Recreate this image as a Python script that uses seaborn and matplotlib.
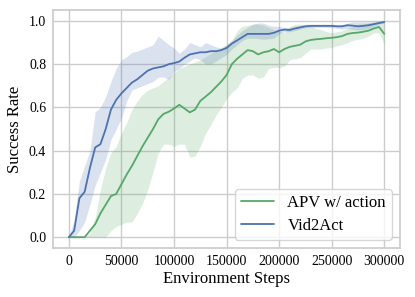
import numpy as np
import pandas as pd
import matplotlib
matplotlib.use("Agg")
import matplotlib.pyplot as plt
import seaborn as sns

# environment steps (every 5000)
steps = list(range(0, 300001, 5000))

vid2act_mean = [0.0, 0.03, 0.18, 0.21, 0.32, 0.415, 0.43, 0.50, 0.59, 0.635,
                0.665, 0.69, 0.715, 0.73, 0.75, 0.77, 0.78, 0.785, 0.79, 0.80,
                0.805, 0.812, 0.83, 0.845, 0.85, 0.855, 0.855, 0.86, 0.86, 0.865,
                0.875, 0.895, 0.91, 0.925, 0.94, 0.94, 0.94, 0.94, 0.94, 0.945,
                0.955, 0.96, 0.958, 0.965, 0.97, 0.975, 0.977, 0.977, 0.977, 0.977,
                0.977, 0.975, 0.975, 0.98, 0.978, 0.975, 0.977, 0.98, 0.985, 0.99,
                0.995]
vid2act_low = [0.0, 0.0, 0.03, 0.07, 0.15, 0.24, 0.30, 0.36, 0.45, 0.50,
               0.55, 0.63, 0.68, 0.69, 0.70, 0.71, 0.72, 0.74, 0.74, 0.73,
               0.765, 0.78, 0.80, 0.815, 0.83, 0.82, 0.80, 0.80, 0.815, 0.83,
               0.845, 0.87, 0.89, 0.91, 0.92, 0.92, 0.918, 0.915, 0.918, 0.92,
               0.94, 0.95, 0.95, 0.955, 0.962, 0.968, 0.97, 0.97, 0.97, 0.97,
               0.97, 0.965, 0.962, 0.965, 0.96, 0.958, 0.96, 0.965, 0.975, 0.985,
               0.99]
vid2act_high = [0.0, 0.08, 0.26, 0.33, 0.40, 0.58, 0.60, 0.65, 0.72, 0.78,
                0.82, 0.835, 0.855, 0.86, 0.87, 0.88, 0.89, 0.93, 0.91, 0.89,
                0.875, 0.85, 0.87, 0.90, 0.89, 0.88, 0.90, 0.89, 0.88, 0.875,
                0.89, 0.91, 0.935, 0.955, 0.97, 0.985, 0.99, 0.99, 0.98, 0.975,
                0.975, 0.97, 0.97, 0.975, 0.98, 0.985, 0.985, 0.985, 0.985, 0.985,
                0.985, 0.983, 0.983, 0.99, 0.995, 0.995, 0.995, 0.995, 0.995, 1.0,
                1.0]

apv_mean = [0.0, 0.0, 0.0, 0.0, 0.03, 0.06, 0.11, 0.15, 0.19, 0.20,
            0.245, 0.29, 0.33, 0.375, 0.42, 0.46, 0.50, 0.545, 0.57, 0.58,
            0.595, 0.612, 0.595, 0.577, 0.59, 0.63, 0.65, 0.67, 0.695, 0.72,
            0.75, 0.80, 0.825, 0.845, 0.865, 0.86, 0.845, 0.855, 0.86, 0.87,
            0.855, 0.87, 0.88, 0.885, 0.89, 0.905, 0.912, 0.915, 0.917, 0.92,
            0.922, 0.925, 0.93, 0.94, 0.944, 0.946, 0.95, 0.955, 0.965, 0.972,
            0.94]
apv_low = [0.0, 0.0, 0.0, 0.0, 0.0, 0.0, 0.0, 0.0, 0.03, 0.05,
           0.06, 0.07, 0.07, 0.11, 0.155, 0.22, 0.30, 0.39, 0.43, 0.43,
           0.42, 0.43, 0.43, 0.37, 0.375, 0.42, 0.48, 0.52, 0.565, 0.60,
           0.64, 0.67, 0.69, 0.735, 0.75, 0.75, 0.735, 0.74, 0.78, 0.785,
           0.785, 0.79, 0.82, 0.825, 0.83, 0.85, 0.87, 0.87, 0.87, 0.875,
           0.877, 0.885, 0.89, 0.90, 0.91, 0.915, 0.92, 0.93, 0.945, 0.945,
           0.89]
apv_high = [0.0, 0.0, 0.0, 0.0, 0.02, 0.09, 0.22, 0.32, 0.39, 0.42,
            0.48, 0.53, 0.59, 0.63, 0.66, 0.68, 0.69, 0.70, 0.72, 0.74,
            0.76, 0.78, 0.79, 0.80, 0.81, 0.82, 0.835, 0.85, 0.86, 0.875,
            0.89, 0.91, 0.955, 0.975, 0.98, 0.985, 0.985, 0.98, 0.97, 0.96,
            0.95, 0.945, 0.975, 0.985, 0.985, 0.98, 0.975, 0.965, 0.96, 0.95,
            0.946, 0.95, 0.955, 0.965, 0.975, 0.985, 0.988, 0.99, 0.995, 1.0,
            0.99]

labels = ["APV w/ action", "Vid2Act"]
colors = ["#55A868", "#4C72B0"]

df = pd.DataFrame({
    "Environment Steps": steps * 2,
    "Success Rate": apv_mean + vid2act_mean,
    "method": [labels[0]] * len(steps) + [labels[1]] * len(steps),
})

sns.set_theme(style="whitegrid")
plt.rcParams["font.family"] = ["Liberation Serif", "DejaVu Serif"]
plt.rcParams["text.color"] = "black"
plt.rcParams["axes.labelcolor"] = "black"
plt.rcParams["xtick.color"] = "black"
plt.rcParams["ytick.color"] = "black"

fig = plt.figure(figsize=(4.15, 2.97), dpi=100)
ax = fig.add_axes([0.128, 0.165, 0.836, 0.801])

bands = [(apv_low, apv_high), (vid2act_low, vid2act_high)]
for (lo, hi), c in zip(bands, colors):
    ax.fill_between(steps, lo, hi, color=c, alpha=0.2, linewidth=0)

sns.lineplot(data=df, x="Environment Steps", y="Success Rate", hue="method",
             hue_order=labels, palette=colors, linewidth=1.3, ax=ax)

ax.set_xticks([0, 50000, 100000, 150000, 200000, 250000, 300000])
ax.set_yticks([0.0, 0.2, 0.4, 0.6, 0.8, 1.0])
ax.tick_params(labelsize=10, length=0, pad=5)
ax.set_xlabel("Environment Steps", fontsize=12, labelpad=2)
ax.set_ylabel("Success Rate", fontsize=12, labelpad=4)
ax.legend(loc="lower right", fontsize=12, title=None, borderaxespad=0.5,
          labelspacing=0.4, borderpad=0.35)

fig.savefig("out.png", dpi=100)
